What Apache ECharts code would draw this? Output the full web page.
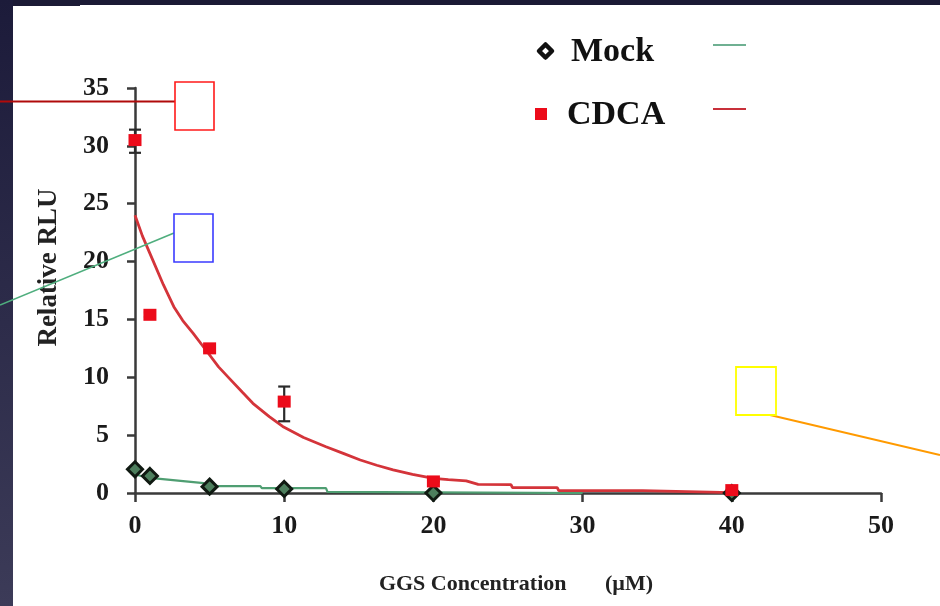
<!DOCTYPE html>
<html><head><meta charset="utf-8">
<script src="https://cdn.jsdelivr.net/npm/echarts@6/dist/echarts.min.js"></script>
<style>html,body{margin:0;padding:0;background:#fff}#c{width:940px;height:606px}</style>
</head><body><div id="c"></div>
<script>
// ---- data ----
const concentrations = [0, 1, 5, 10, 20, 40];
const mockValues = [2.05, 1.47, 0.55, 0.35, 0, 0];
const cdcaValues = [30.5, 15.4, 12.5, 7.9, 1.0, 0.25];
const cdcaErrLow = [29.4, 15.2, 12.3, 6.2, 0.95, 0.2];
const cdcaErrHigh = [31.4, 15.6, 12.7, 9.2, 1.05, 0.3];
const cdcaFitX = [0, 0.5, 1.2, 1.9, 2.6, 3.2, 3.9, 4.9, 5.6, 6.4, 7.2, 7.9, 9.0, 9.9, 11.3, 12.8, 14.0, 15.1, 16.2, 17.3, 18.6, 20.0, 21.0, 22.2, 23.0, 25.2, 25.3, 28.3, 28.4, 34.0, 34.1, 40.0];
const cdcaFitY = [24.0, 22.2, 20.1, 18.0, 16.1, 14.9, 13.8, 12.1, 10.9, 9.8, 8.7, 7.75, 6.6, 5.75, 4.8, 4.0, 3.4, 2.85, 2.4, 2.0, 1.6, 1.27, 1.15, 1.05, 0.75, 0.72, 0.46, 0.46, 0.2, 0.2, 0.03, 0.03];
const mockFitX = [0, 1.0, 3.4, 3.5, 4.6, 4.7, 8.4, 8.5, 12.8, 12.9, 20.0, 30.0];
const mockFitY = [1.6, 1.3, 1.0, 0.85, 0.85, 0.6, 0.6, 0.42, 0.42, 0.1, 0.05, 0.0];
const xTickLabels = [0, 10, 20, 30, 40, 50];
const yTickLabels = [0, 5, 10, 15, 20, 25, 30, 35];
const seriesNames = ['Mock', 'CDCA'];

const serif = "'Liberation Serif', 'DejaVu Serif', serif";
const red = '#ec0b1a';
const redLine = '#d4343a';
const green = '#4f9e72';

const pts = (xs, ys) => xs.map((x, i) => [x, ys[i]]);

const chart = echarts.init(document.getElementById('c'), null, {renderer: 'canvas'});
chart.setOption({
  animation: false,
  backgroundColor: '#ffffff',
  grid: {left: 135, right: 59, top: 88, bottom: 113, containLabel: false},
  xAxis: {
    type: 'value', min: xTickLabels[0], max: xTickLabels[xTickLabels.length - 1], interval: 10,
    name: 'GGS Concentration       (\u00b5M)', nameLocation: 'middle', nameGap: 80,
    nameTextStyle: {fontFamily: serif, fontWeight: 'bold', fontSize: 22, color: '#222', padding: [0, 0, 0, 16]},
    axisLine: {show: true, onZero: false, lineStyle: {color: '#3a3a3a', width: 2.5}},
    axisTick: {show: true, inside: false, length: 9, lineStyle: {color: '#3a3a3a', width: 2.5}},
    axisLabel: {margin: 20, fontFamily: serif, fontWeight: 'bold', fontSize: 26, color: '#1a1a1a'},
    splitLine: {show: false}
  },
  yAxis: {
    type: 'value', min: yTickLabels[0], max: yTickLabels[yTickLabels.length - 1], interval: 5,
    name: 'Relative RLU', nameLocation: 'middle', nameGap: 72, nameRotate: 90,
    nameTextStyle: {fontFamily: serif, fontWeight: 'bold', fontSize: 27, color: '#222', padding: [0, 0, 0, 46]},
    axisLine: {show: true, onZero: false, lineStyle: {color: '#3a3a3a', width: 2.5}},
    axisTick: {show: true, inside: false, length: 8, lineStyle: {color: '#3a3a3a', width: 2.5}},
    axisLabel: {margin: 26, fontFamily: serif, fontWeight: 'bold', fontSize: 26, color: '#1a1a1a'},
    splitLine: {show: false}
  },
  series: [
    {
      name: seriesNames[0] + ' fit', type: 'line', data: pts(mockFitX, mockFitY),
      showSymbol: false, smooth: false, lineStyle: {color: green, width: 2.2}, z: 2
    },
    {
      name: seriesNames[1] + ' fit', type: 'line', data: pts(cdcaFitX, cdcaFitY),
      showSymbol: false, smooth: false, lineStyle: {color: redLine, width: 2.8}, z: 3
    },
    {
      name: seriesNames[1] + ' error', type: 'custom', z: 4,
      data: concentrations.map((x, i) => [x, cdcaErrLow[i], cdcaErrHigh[i]]),
      renderItem: function (params, api) {
        const x = api.value(0);
        const lo = api.coord([x, api.value(1)]);
        const hi = api.coord([x, api.value(2)]);
        const w = 6;
        const st = {stroke: '#2b2b2b', lineWidth: 2.2};
        return {type: 'group', children: [
          {type: 'line', shape: {x1: lo[0], y1: lo[1], x2: hi[0], y2: hi[1]}, style: st},
          {type: 'line', shape: {x1: hi[0] - w, y1: hi[1], x2: hi[0] + w, y2: hi[1]}, style: st},
          {type: 'line', shape: {x1: lo[0] - w, y1: lo[1], x2: lo[0] + w, y2: lo[1]}, style: st}
        ]};
      }
    },
    {
      name: seriesNames[0], type: 'scatter', data: pts(concentrations, mockValues),
      symbol: 'diamond', symbolSize: 15, z: 5,
      itemStyle: {color: '#4d7f5d', borderColor: '#101a12', borderWidth: 3, opacity: 1}
    },
    {
      name: seriesNames[1], type: 'scatter', data: pts(concentrations, cdcaValues),
      symbol: 'rect', symbolSize: [13, 12], z: 6,
      itemStyle: {color: red, opacity: 1}
    }
  ],
  graphic: [
    // dark slide frame
    {type: 'rect', left: 0, top: 0, shape: {width: 940, height: 5}, style: {fill: '#1b1a35'}, z: 100},
    {type: 'rect', left: 0, top: 0, shape: {width: 80, height: 6}, style: {fill: '#1b1a35'}, z: 100},
    {type: 'rect', left: 0, top: 0, shape: {width: 13, height: 606},
      style: {fill: new echarts.graphic.LinearGradient(0, 0, 0, 1, [
        {offset: 0, color: '#1c1b3a'}, {offset: 1, color: '#3c3b58'}])}, z: 100},
    // legend
    {type: 'polygon', shape: {points: [[545.5, 44.5], [552, 51], [545.5, 57.5], [539, 51]]},
      style: {fill: '#ffffff', stroke: '#111', lineWidth: 4.5, lineJoin: 'round'}, z: 50},
    {type: 'text', left: 571, top: 35, style: {text: seriesNames[0], font: "bold 34px " + serif, fill: '#111'}, z: 50},
    {type: 'line', shape: {x1: 713, y1: 45, x2: 746, y2: 45}, style: {stroke: '#6fb092', lineWidth: 2}, z: 50},
    {type: 'rect', shape: {x: 535, y: 108, width: 12, height: 12}, style: {fill: red}, z: 50},
    {type: 'text', left: 567, top: 98, style: {text: seriesNames[1], font: "bold 34px " + serif, fill: '#111'}, z: 50},
    {type: 'line', shape: {x1: 713, y1: 109, x2: 746, y2: 109}, style: {stroke: '#c8303a', lineWidth: 2}, z: 50},
    // annotation boxes and leader lines
    {type: 'line', shape: {x1: 0, y1: 101.5, x2: 175, y2: 101.5}, style: {stroke: '#b00a0a', lineWidth: 2}, z: 110},
    {type: 'rect', shape: {x: 175, y: 82, width: 39, height: 48}, style: {fill: '#fff', stroke: '#ff1a1a', lineWidth: 1.6}, z: 110},
    {type: 'line', shape: {x1: 0, y1: 305, x2: 174, y2: 233}, style: {stroke: '#4fae7e', lineWidth: 1.6}, z: 110},
    {type: 'rect', shape: {x: 174, y: 214, width: 39, height: 48}, style: {fill: '#fff', stroke: '#3b3bff', lineWidth: 1.6}, z: 110},
    {type: 'line', shape: {x1: 770, y1: 415, x2: 940, y2: 455}, style: {stroke: '#ff9a00', lineWidth: 2}, z: 110},
    {type: 'rect', shape: {x: 736, y: 367, width: 40, height: 48}, style: {fill: '#fff', stroke: '#ffff00', lineWidth: 1.8}, z: 110}
  ]
});
</script>
</body></html>
